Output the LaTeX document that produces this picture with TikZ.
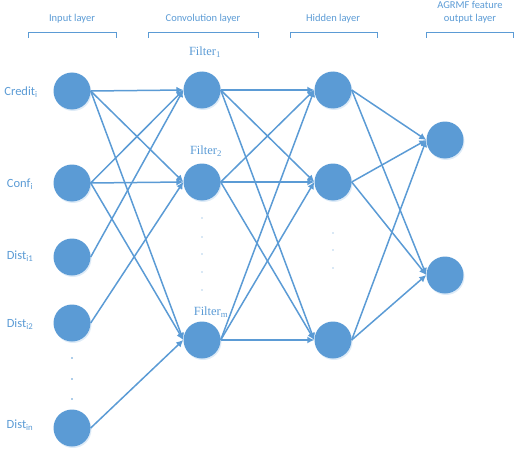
\documentclass[tikz,border=0pt]{standalone}
\usepackage{fontspec}
\setmainfont{Carlito}
\newfontfamily\filterfont{Liberation Serif}
\usepackage{xcolor}
\definecolor{nnblue}{RGB}{91, 155, 213}
\definecolor{nnshadow}{RGB}{222, 235, 247}
\usetikzlibrary{shadows,arrows.meta}

\begin{document}
\begin{tikzpicture}[x=1pt, y=-1pt,
    neuron/.style={circle, fill=nnblue, minimum size=37pt, inner sep=0pt,
        drop shadow={fill=nnshadow, opacity=1, shadow xshift=1pt, shadow yshift=-1.5pt}},
    conn/.style={-{Latex[length=7pt,width=7pt]}, draw=nnblue, line width=1.5pt},
    bracket/.style={draw=nnblue, line width=0.9pt},
    head/.style={text=nnblue, font=\fontsize{10.5}{12.5}\selectfont, inner sep=0pt},
    inlbl/.style={text=nnblue, font=\fontsize{12.5}{14}\selectfont, inner sep=0pt},
    filt/.style={text=nnblue, font=\filterfont\fontsize{12.5}{14}\selectfont, inner sep=0pt}]
    \useasboundingbox (0,0) rectangle (514,452);

    % layer titles
    \node[head] (tin) at (72,19) {Input layer};
    \node[head] (tconv) at (203,19) {Convolution layer};
    \node[head] (thid) at (333,19) {Hidden layer};
    \node[head, align=center] (tout) at (470,12) {AGRMF feature\\output layer};
    \draw[bracket] (28,38) -- (28,32) -- (116,32) -- (116,38);
    \draw[bracket] (148,38) -- (148,32) -- (258,32) -- (258,38);
    \draw[bracket] (290,38) -- (290,32) -- (377,32) -- (377,38);
    \draw[bracket] (426,38) -- (426,32) -- (513,32) -- (513,38);

    % input layer
    \node[neuron] (credit) at (72,91) {};
    \node[neuron] (conf) at (72,183) {};
    \node[neuron] (dist1) at (72,257) {};
    \node[neuron] (dist2) at (72,323) {};
    \node[neuron] (distn) at (72,428) {};
    \node[inlbl] (lcredit) at (21,92) {Credit\textsubscript{i}};
    \node[inlbl] (lconf) at (20,184) {Conf\textsubscript{i}};
    \node[inlbl] (ldist1) at (20,256) {Dist\textsubscript{i1}};
    \node[inlbl] (ldist2) at (20,324) {Dist\textsubscript{i2}};
    \node[inlbl] (ldistn) at (20,425) {Dist\textsubscript{in}};

    % convolution layer
    \node[neuron] (f1) at (202,90) {};
    \node[neuron] (f2) at (202,182) {};
    \node[neuron] (fm) at (202,340) {};
    \node[filt] (lf1) at (205,52) {Filter\textsubscript{1}};
    \node[filt] (lf2) at (206,151) {Filter\textsubscript{2}};
    \node[filt] (lfm) at (211,312) {Filter\textsubscript{m}};

    % hidden layer
    \node[neuron] (h1) at (333,90) {};
    \node[neuron] (h2) at (333,182) {};
    \node[neuron] (h3) at (333,340) {};

    % output layer
    \node[neuron] (o1) at (445,140) {};
    \node[neuron] (o2) at (445,275) {};

    % dots
    \foreach \y in {358,379,399} \fill[nnblue] (72,\y) circle (0.9pt);
    \foreach \y in {218,237,254,272,290} \fill[nnblue] (202,\y) circle (0.7pt);
    \foreach \y in {233,250,268} \fill[nnblue] (333,\y) circle (0.7pt);

    % connections
    \foreach \a in {credit,conf}
        \foreach \b in {f1,f2,fm}
            \draw[conn] (\a.east) -- (\b.west);
    \draw[conn] (dist1.east) -- (f1.west);
    \draw[conn] (dist2.east) -- (f2.west);
    \draw[conn] (distn.east) -- (fm.west);
    \foreach \a in {f1,f2,fm}
        \foreach \b in {h1,h2,h3}
            \draw[conn] (\a.east) -- (\b.west);
    \foreach \a in {h1,h2,h3}
        \foreach \b in {o1,o2}
            \draw[conn] (\a.east) -- (\b.west);
\end{tikzpicture}
\end{document}
